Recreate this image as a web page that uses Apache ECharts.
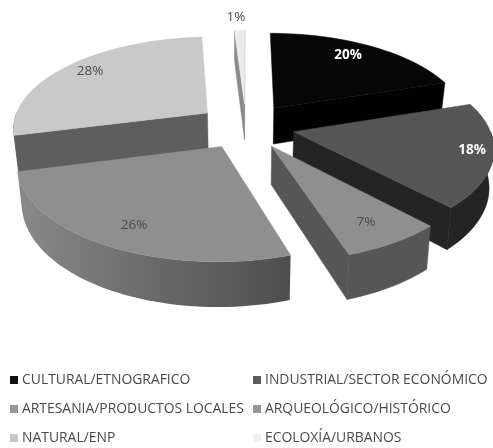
<!DOCTYPE html>
<html><head><meta charset="utf-8">
<style>html,body{margin:0;padding:0;background:#fff}#c{width:493px;height:448px;filter:blur(0.55px)}</style>
<script src="https://cdn.jsdelivr.net/npm/echarts@6/dist/echarts.min.js"></script>
</head><body><div id="c"></div>
<script>
var categories = ["CULTURAL/ETNOGRAFICO","INDUSTRIAL/SECTOR ECONÓMICO","ARTESANIA/PRODUCTOS LOCALES","ARQUEOLÓGICO/HISTÓRICO","NATURAL/ENP","ECOLOXÍA/URBANOS"];
var values = [20,18,26,7,28,1];
// Excel draws clockwise from 12 o'clock in this order (indices into categories)
var sliceOrder = [0,1,3,2,4,5];
// Painter's order, back to front
var drawOrder = [4,5,0,1,3,2];
var topColors = ["#060606","#565656","#8f8f8f","#8f8f8f","#c9c9c9","#ececec"];
var wallColors = ["#020202","#242424","#888888","#565656","#5e5e5e","#8a8a8a"];
var legendColors = ["#111111","#5a5a5a","#969696","#969696","#c8c8c8","#f0f0f0"];
var labelColors = ["#ffffff","#ffffff","#4a4a4a","#4a4a4a","#4a4a4a","#4a4a4a"];
var labelWeights = ["bold","bold","normal","normal","normal","normal"];
var labelPos = [[348,55],[472,150],[134,225],[366,222],[90,71],[236,17]];
var legendLefts = [10,253];
var legendTops = [373,402,431];

var CX=246, CY=126, RX=195, RY=91, P=0.15, EXPLODE=0.25, DEPTH=37, SHRINK=0.98;
var total = values.reduce(function(a,b){return a+b;},0);
var starts = {}, acc = 0;
sliceOrder.forEach(function(i){ starts[i]=acc; acc+=values[i]; });

function proj(X,Y,bottom){
  var w=1/(1+P*Y), x=CX+RX*X*w, y=CY-RY*Y*w;
  if(bottom){ x=CX+(x-CX)*SHRINK; y+=DEPTH*w; }
  return [x,y];
}
function rad(d){return d*Math.PI/180;}

function renderSlice(idx){
  return function(params,api){
    var v=api.value(0);
    var a0=starts[idx]/total*360, a1=a0+v/total*360, mid=(a0+a1)/2;
    var ox=EXPLODE*Math.sin(rad(mid)), oy=EXPLODE*Math.cos(rad(mid));
    function pt(a,b){return proj(ox+Math.sin(rad(a)),oy+Math.cos(rad(a)),b);}
    function apex(b){return proj(ox,oy,b);}
    function arc(from,to,b){var o=[],n=Math.max(2,Math.ceil(Math.abs(to-from)/2));
      for(var k=0;k<=n;k++)o.push(pt(from+(to-from)*k/n,b));return o;}
    var kids=[];
    function poly(points,fill){kids.push({type:'polygon',shape:{points:points},
      style:{fill:fill,stroke:typeof fill==='string'?fill:null,lineWidth:0.5},silent:true});}
    var wall=wallColors[idx];
    // cut faces that look toward the viewer
    if(Math.sin(rad(a0))<-0.001) poly([apex(false),pt(a0,false),pt(a0,true),apex(true)],wall);
    if(Math.sin(rad(a1))>-0.01) poly([apex(false),pt(a1,false),pt(a1,true),apex(true)],wall);
    // outer rim, front half only
    var r0=Math.max(a0,90), r1=Math.min(a1,270);
    if(r1>r0){
      var fill=wall;
      if(idx===2) fill={type:'linear',x:0,y:0,x2:1,y2:0,colorStops:[
        {offset:0,color:'#8a8a8a'},{offset:0.55,color:'#666666'},{offset:1,color:'#4e4e4e'}]};
      poly(arc(r0,r1,false).concat(arc(r0,r1,true).reverse()),fill);
    }
    // top face
    poly([apex(false)].concat(arc(a0,a1,false)),topColors[idx]);
    kids.push({type:'text',silent:true,z2:10,style:{x:labelPos[idx][0],y:labelPos[idx][1],
      text:v+'%',fill:labelColors[idx],fontWeight:labelWeights[idx],fontFamily:'Open Sans',fontSize:13.5,
      align:'center',verticalAlign:'middle'}});
    return {type:'group',children:kids};
  };
}

var series = categories.map(function(name,i){
  return {type:'custom',name:name,coordinateSystem:'none',silent:true,animation:false,
    z:2+drawOrder.indexOf(i),
    itemStyle:{color:legendColors[i]},
    renderItem:renderSlice(i),data:[[values[i]]],encode:{value:0}};
});
var legends = categories.map(function(name,i){
  return {show:true,left:legendLefts[i%2],top:legendTops[Math.floor(i/2)],padding:0,itemWidth:8,itemHeight:8,
    icon:'rect',selectedMode:false,data:[name],
    textStyle:{color:'#4a4a4a',fontFamily:'Open Sans',fontSize:13.9,padding:[0,0,0,-1]}};
});
var chart=echarts.init(document.getElementById('c'),null,{renderer:'canvas'});
chart.setOption({animation:false,backgroundColor:'#ffffff',legend:legends,series:series});
</script></body></html>
